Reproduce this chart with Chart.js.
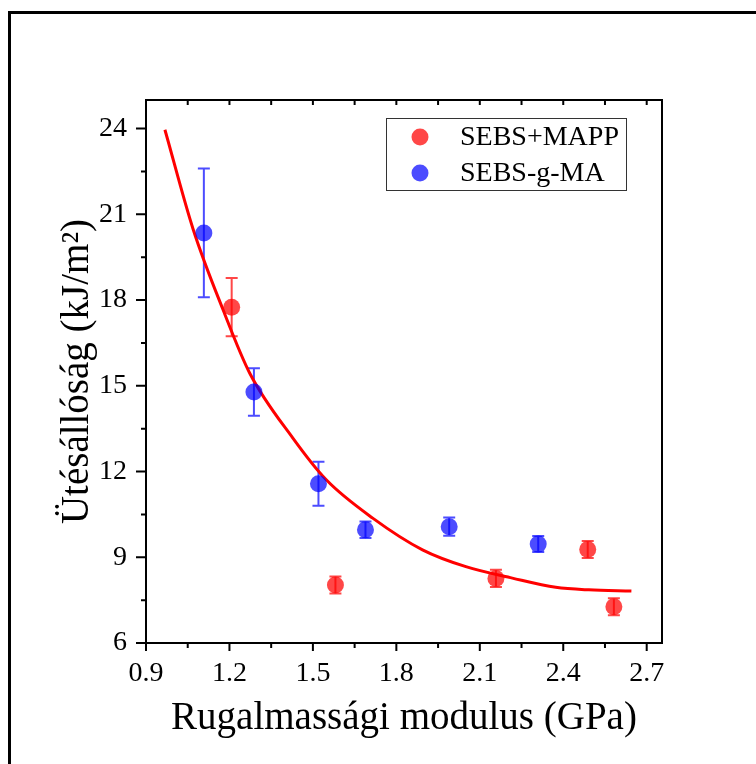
<!DOCTYPE html>
<html>
<head>
<meta charset="utf-8">
<script src="https://cdn.jsdelivr.net/npm/chart.js@4.4.1/dist/chart.umd.min.js"></script>
<style>
  body { margin: 0; background: #fff; }
  #wrap { position: relative; width: 756px; height: 764px; overflow: hidden; }
  #frame { position: absolute; left: 8px; top: 11px; width: 900px; height: 900px; border-left: 3px solid #000; border-top: 3px solid #000; }
  canvas { position: absolute; left: 0; top: 0; }
</style>
</head>
<body>
<div id="wrap">
  <div id="frame"></div>
  <canvas id="chart" width="756" height="764"></canvas>
</div>
<script>
const xTicks = [0.9, 1.2, 1.5, 1.8, 2.1, 2.4, 2.7];
const yTicks = [6, 9, 12, 15, 18, 21, 24];

const mappX = [1.208, 1.581, 2.158, 2.488, 2.582];
const mappY = [17.75, 8.03, 8.26, 9.27, 7.27];
const mappErr = [1.02, 0.3, 0.3, 0.3, 0.3];

const gmaX = [1.108, 1.288, 1.52, 1.689, 1.99, 2.31];
const gmaY = [20.35, 14.78, 11.57, 9.96, 10.07, 9.46];
const gmaErr = [2.25, 0.83, 0.77, 0.29, 0.32, 0.28];

const fitX = [0.968, 1.07, 1.177, 1.273, 1.428, 1.548, 1.715, 1.894, 2.05, 2.217, 2.373, 2.492, 2.645];
const fitY = [23.96, 20.46, 17.66, 15.44, 13.17, 11.71, 10.37, 9.26, 8.67, 8.27, 7.95, 7.86, 7.82];

const serif = "'Liberation Serif', 'Times New Roman', serif";
const red = 'rgba(255, 0, 0, 0.72)';
const blue = 'rgba(0, 0, 255, 0.7)';

function pts(xs, ys) {
  return xs.map((x, i) => ({ x: x, y: ys[i] }));
}

// error bars, axis ticks/box and the boxed legend
const extras = {
  id: 'extras',
  beforeDatasetsDraw(chart) {
    const ctx = chart.ctx;
    const xs = chart.scales.x, ys = chart.scales.y;
    const errs = [mappErr, gmaErr];
    ctx.save();
    ctx.lineWidth = 2;
    [0, 1].forEach(function (d) {
      const ds = chart.data.datasets[d];
      ctx.strokeStyle = ds.backgroundColor;
      ds.data.forEach(function (p, i) {
        const px = xs.getPixelForValue(p.x);
        const top = ys.getPixelForValue(p.y + errs[d][i]);
        const bot = ys.getPixelForValue(p.y - errs[d][i]);
        ctx.beginPath();
        ctx.moveTo(px, top); ctx.lineTo(px, bot);
        ctx.moveTo(px - 6, top); ctx.lineTo(px + 6, top);
        ctx.moveTo(px - 6, bot); ctx.lineTo(px + 6, bot);
        ctx.stroke();
      });
    });
    ctx.restore();
  },
  afterDraw(chart) {
    const ctx = chart.ctx;
    const a = chart.chartArea;
    const xs = chart.scales.x, ys = chart.scales.y;
    ctx.save();
    ctx.strokeStyle = '#000';
    ctx.lineWidth = 2;
    ctx.strokeRect(a.left, a.top, a.right - a.left, a.bottom - a.top);

    ctx.beginPath();
    xTicks.forEach(function (v, i) {
      const px = xs.getPixelForValue(v);
      ctx.moveTo(px, a.bottom); ctx.lineTo(px, a.bottom + 8);
      ctx.moveTo(px, a.top); ctx.lineTo(px, a.top + 5);
      if (i < xTicks.length - 1) {
        const mx = xs.getPixelForValue((v + xTicks[i + 1]) / 2);
        ctx.moveTo(mx, a.bottom); ctx.lineTo(mx, a.bottom + 5);
        ctx.moveTo(mx, a.top); ctx.lineTo(mx, a.top + 5);
      }
    });
    yTicks.forEach(function (v, i) {
      const py = ys.getPixelForValue(v);
      ctx.moveTo(a.left, py); ctx.lineTo(a.left - 10, py);
      if (i < yTicks.length - 1) {
        const my = ys.getPixelForValue((v + yTicks[i + 1]) / 2);
        ctx.moveTo(a.left, my); ctx.lineTo(a.left - 5, my);
      }
    });
    ctx.stroke();

    // legend
    ctx.lineWidth = 1;
    ctx.strokeStyle = '#333';
    ctx.strokeRect(386.5, 118.5, 240, 72);
    ctx.font = '28px ' + serif;
    ctx.textBaseline = 'middle';
    chart.data.datasets.slice(0, 2).forEach(function (ds, i) {
      const cy = 137 + i * 36;
      ctx.fillStyle = ds.backgroundColor;
      ctx.beginPath();
      ctx.arc(420, cy, 8.5, 0, Math.PI * 2);
      ctx.fill();
      ctx.fillStyle = '#000';
      ctx.fillText(ds.label, 460, cy + 1);
    });
    ctx.restore();
  }
};

new Chart(document.getElementById('chart'), {
  type: 'scatter',
  data: {
    datasets: [
      { label: 'SEBS+MAPP', data: pts(mappX, mappY), backgroundColor: red, borderWidth: 0, pointRadius: 8.5, order: 1 },
      { label: 'SEBS-g-MA', data: pts(gmaX, gmaY), backgroundColor: blue, borderWidth: 0, pointRadius: 8.5, order: 1 },
      { label: 'fit', data: pts(fitX, fitY), type: 'line', showLine: true, borderColor: '#ff0000', borderWidth: 3,
        pointRadius: 0, tension: 0.4, cubicInterpolationMode: 'monotone', fill: false, order: 2 }
    ]
  },
  options: {
    responsive: false,
    animation: false,
    layout: { padding: { left: 0, right: 94, top: 100, bottom: 0 } },
    plugins: { legend: { display: false }, tooltip: { enabled: false } },
    scales: {
      x: {
        type: 'linear', min: 0.9, max: 2.755,
        afterBuildTicks: function (s) { s.ticks = xTicks.map(v => ({ value: v })); },
        afterFit: function (s) { s.height = 121; },
        grid: { display: true, drawOnChartArea: false, tickLength: 8, tickColor: 'rgba(0,0,0,0)' },
        border: { display: false },
        ticks: { color: '#000', font: { family: serif, size: 28 }, padding: 6, maxRotation: 0,
          callback: v => v.toFixed(1) },
        title: { display: true, text: 'Rugalmassági modulus (GPa)', color: '#000',
          font: { family: serif, size: 39 }, padding: { top: 0, bottom: 22 } }
      },
      y: {
        type: 'linear', min: 6, max: 25,
        afterBuildTicks: function (s) { s.ticks = yTicks.map(v => ({ value: v })); },
        afterFit: function (s) { s.width = 146; },
        grid: { display: true, drawOnChartArea: false, tickLength: 10, tickColor: 'rgba(0,0,0,0)' },
        border: { display: false },
        ticks: { color: '#000', font: { family: serif, size: 28 }, padding: 9,
          callback: v => String(v) },
        title: { display: true, text: 'Ütésállóság (kJ/m²)', color: '#000',
          font: { family: serif, size: 39 }, padding: { top: 54, bottom: 0 } }
      }
    }
  },
  plugins: [extras]
});
</script>
</body>
</html>
